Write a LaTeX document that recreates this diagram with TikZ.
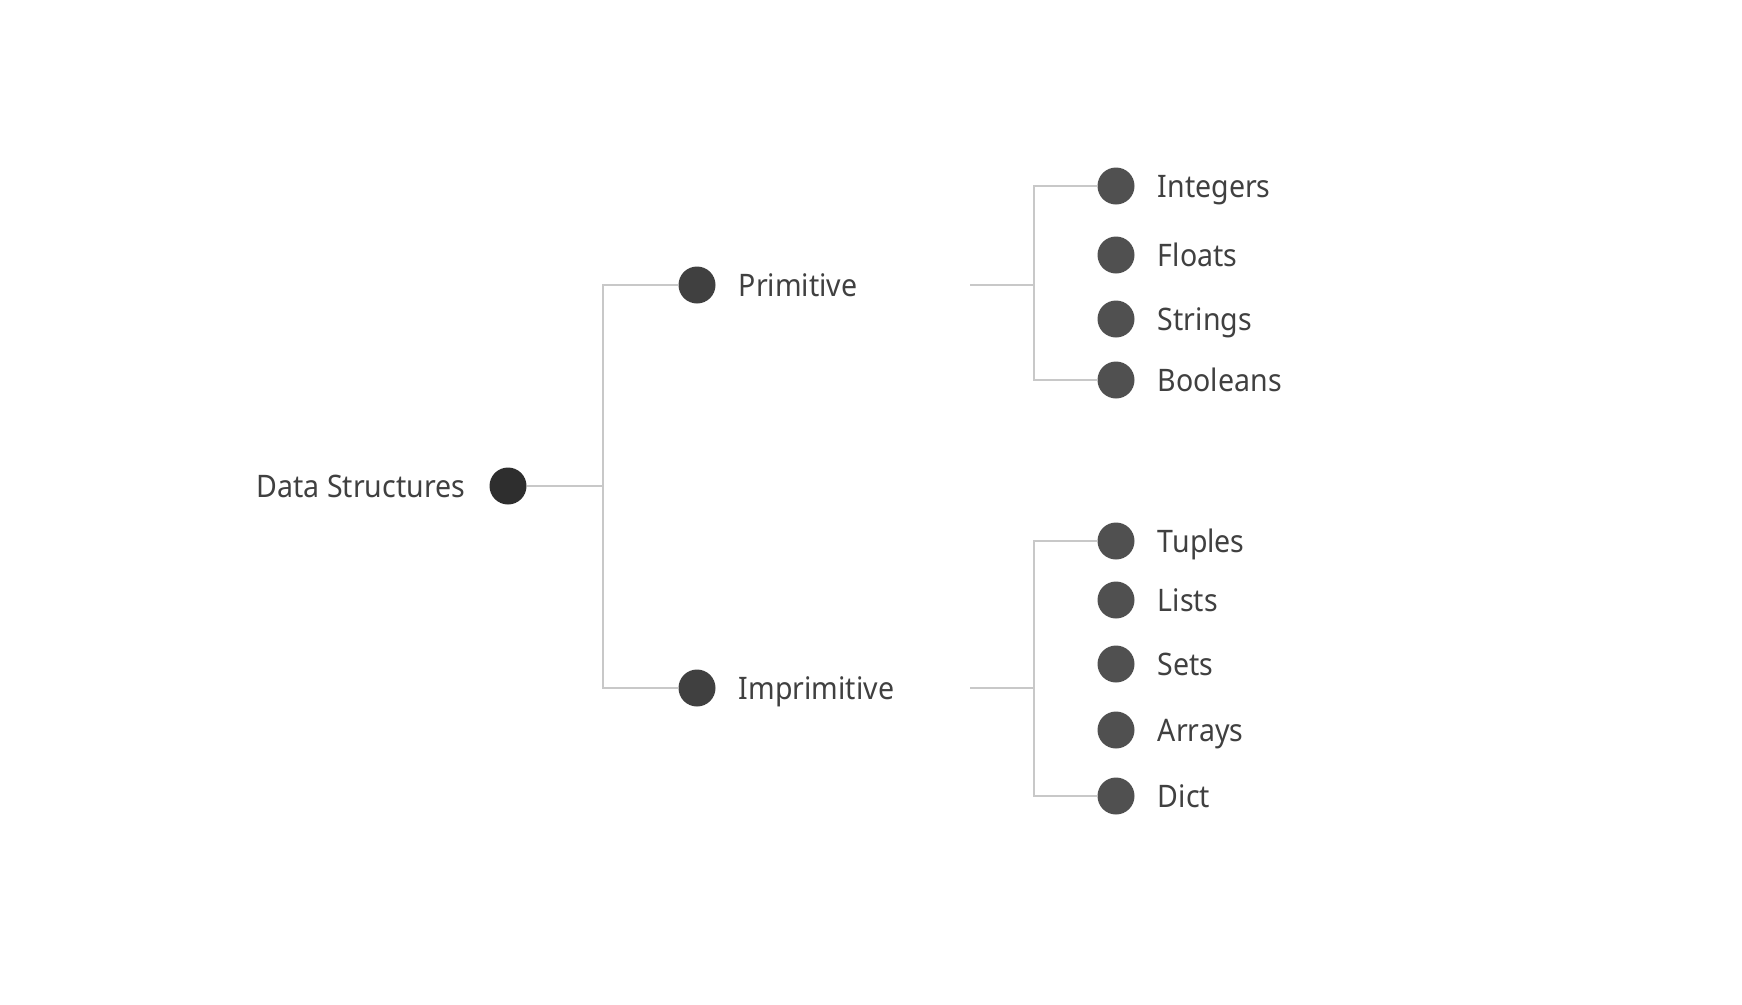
\documentclass[tikz,border=0pt]{standalone}
\usepackage{fontspec}
\setmainfont[FakeStretch=0.92]{Noto Sans}
\usetikzlibrary{positioning}

\definecolor{rootgray}{HTML}{2E2E2E}
\definecolor{midgray}{HTML}{404040}
\definecolor{leafgray}{HTML}{505050}
\definecolor{linkgray}{HTML}{C8C8C8}
\definecolor{textgray}{HTML}{404040}

\begin{document}
\begin{tikzpicture}[x=1pt,y=-1pt,
    dot/.style={circle,inner sep=0pt,minimum size=37pt},
    lbl/.style={inner sep=0pt,text height=22.7pt,text depth=0pt,text=textgray,font=\fontsize{31}{36}\selectfont},
    link/.style={draw=linkgray,line width=2.2pt}]
  \useasboundingbox (0,0) rectangle (1742,1004);

  % root
  \node[dot,fill=rootgray] (ds) at (508,486) {};
  \node[lbl,left=24pt of ds] (dslbl) {Data Structures};

  % second level
  \node[dot,fill=midgray] (prim) at (697,285) {};
  \node[lbl,right=23pt of prim] (primlbl) {Primitive};
  \node[dot,fill=midgray] (imprim) at (697,688) {};
  \node[lbl,right=23pt of imprim] (imprimlbl) {Imprimitive};

  % leaves of primitive
  \node[dot,fill=leafgray] (int) at (1116,186) {};
  \node[lbl,right=23pt of int] {Integers};
  \node[dot,fill=leafgray] (flt) at (1116,255) {};
  \node[lbl,right=23pt of flt] {Floats};
  \node[dot,fill=leafgray] (str) at (1116,319) {};
  \node[lbl,right=23pt of str] {Strings};
  \node[dot,fill=leafgray] (bool) at (1116,380) {};
  \node[lbl,right=23pt of bool] {Booleans};

  % leaves of imprimitive
  \node[dot,fill=leafgray] (tup) at (1116,541) {};
  \node[lbl,right=23pt of tup] {Tuples};
  \node[dot,fill=leafgray] (lst) at (1116,600) {};
  \node[lbl,right=23pt of lst] {Lists};
  \node[dot,fill=leafgray] (set) at (1116,664) {};
  \node[lbl,right=23pt of set] {Sets};
  \node[dot,fill=leafgray] (arr) at (1116,730) {};
  \node[lbl,right=23pt of arr] {Arrays};
  \node[dot,fill=leafgray] (dict) at (1116,796) {};
  \node[lbl,right=23pt of dict] {Dict};

  % connectors
  \coordinate (j0) at (603,486);
  \draw[link] (ds) -- (j0) |- (prim);
  \draw[link] (j0) |- (imprim);

  \coordinate (p0) at (970,285);
  \coordinate (p1) at (1034,285);
  \draw[link] (p0) -- (p1);
  \draw[link] (p1) |- (int);
  \draw[link] (p1) |- (bool);

  \coordinate (q0) at (970,688);
  \coordinate (q1) at (1034,688);
  \draw[link] (q0) -- (q1);
  \draw[link] (q1) |- (tup);
  \draw[link] (q1) |- (dict);
\end{tikzpicture}
\end{document}
